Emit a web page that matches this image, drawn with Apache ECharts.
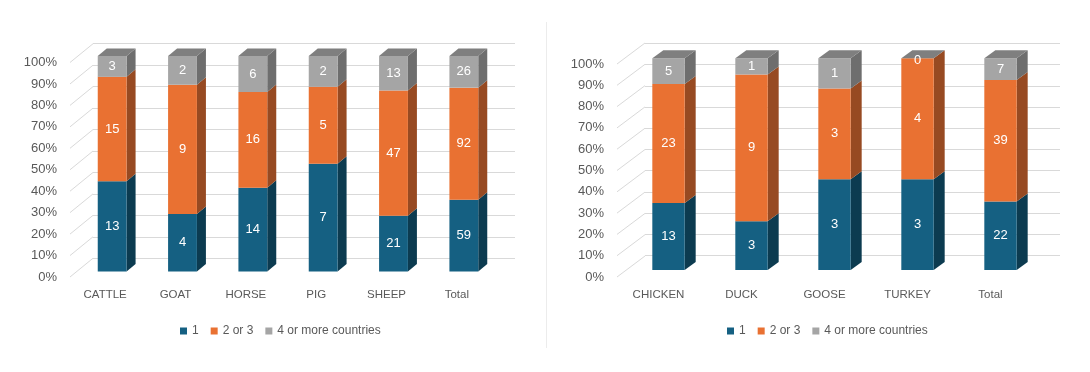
<!DOCTYPE html>
<html><head><meta charset="utf-8">
<script src="https://cdn.jsdelivr.net/npm/echarts@6/dist/echarts.min.js"></script>
<style>html,body{margin:0;padding:0;background:#fff}#c{width:1090px;height:372px}</style>
</head><body><div id="c"></div>
<script>
// ---- data ----
const leftCategories = ['CATTLE', 'GOAT', 'HORSE', 'PIG', 'SHEEP', 'Total'];
const left1 = [13, 4, 14, 7, 21, 59];
const left23 = [15, 9, 16, 5, 47, 92];
const left4 = [3, 2, 6, 2, 13, 26];

const rightCategories = ['CHICKEN', 'DUCK', 'GOOSE', 'TURKEY', 'Total'];
const right1 = [13, 3, 3, 3, 22];
const right23 = [23, 9, 3, 4, 39];
const right4 = [5, 1, 1, 0, 7];

const seriesNames = ['1', '2 or 3', '4 or more countries'];
const yTicks = [0, 10, 20, 30, 40, 50, 60, 70, 80, 90, 100];

// ---- styles ----
const FONT = '"Liberation Sans", Arial, sans-serif';
const TXT = '#595959';
const GRID_C = '#d9d9d9';
const FRONT = ['#156082', '#E97132', '#A5A5A5'];
const SIDE = ['#0C3B50', '#974A22', '#6E6E6E'];
const TOP = ['#0F4A64', '#B3582A', '#7F7F7F'];

const panels = [
  { cats: leftCategories, levels: [left1, left23, left4],
    front: { left: 70, right: 492, top: 62.5, bottom: 277 },
    back: { left: 93, right: 515, top: 43.3, bottom: 258.7 },
    bar: { left: 77, right: 499, top: 56, bottom: 271.5 },
    barRatio: 0.41, bdx: 9, bdy: -7.5, legendLeft: 175 },
  { cats: rightCategories, levels: [right1, right23, right4],
    front: { left: 617, right: 1032, top: 64, bottom: 277 },
    back: { left: 645, right: 1060, top: 43.3, bottom: 255.7 },
    bar: { left: 627, right: 1042, top: 58.3, bottom: 270 },
    barRatio: 0.39, bdx: 11, bdy: -8, legendLeft: 722 }
];

const W = 1090, H = 372;
const grid = [], xAxis = [], yAxis = [], series = [], legend = [];

function rect(r) {
  return { left: r.left, top: r.top, width: r.right - r.left, height: r.bottom - r.top,
           containLabel: false, outerBoundsMode: 'none' };
}

panels.forEach((p, pi) => {
  const g0 = grid.length;
  grid.push(rect(p.front), rect(p.back), rect(p.bar));
  // front plane: labels
  xAxis.push({ gridIndex: g0, type: 'category', data: p.cats,
    axisLine: { show: false }, axisTick: { show: false },
    axisLabel: { color: TXT, fontSize: 11.5, fontFamily: FONT, margin: 12, interval: 0 },
    splitLine: { show: false } });
  yAxis.push({ gridIndex: g0, type: 'value', min: 0, max: 100, interval: 10,
    axisLine: { show: false }, axisTick: { show: false },
    axisLabel: { color: TXT, fontSize: 13, fontFamily: FONT, margin: 13, formatter: '{value}%' },
    splitLine: { show: false } });
  // back wall: grid lines
  xAxis.push({ gridIndex: g0 + 1, type: 'category', data: p.cats, show: false });
  yAxis.push({ gridIndex: g0 + 1, type: 'value', min: 0, max: 100, interval: 10,
    axisLine: { show: false }, axisTick: { show: false }, axisLabel: { show: false },
    splitLine: { show: true, lineStyle: { color: GRID_C, width: 1 } } });
  // bar plane
  xAxis.push({ gridIndex: g0 + 2, type: 'category', data: p.cats, show: false });
  yAxis.push({ gridIndex: g0 + 2, type: 'value', min: 0, max: 100, show: false,
    splitLine: { show: false } });

  // side-wall diagonal lines
  const ddx = p.back.left - p.front.left;
  const ddy = ((p.back.top - p.front.top) + (p.back.bottom - p.front.bottom)) / 2;
  series.push({
    type: 'custom', xAxisIndex: g0, yAxisIndex: g0, silent: true, clip: false,
    data: yTicks.map(v => [0, v]),
    renderItem: function (params, api) {
      const y = api.coord([0, api.value(1)])[1];
      const x = params.coordSys.x;
      return { type: 'line', shape: { x1: x, y1: y, x2: x + ddx, y2: y + ddy },
               style: { stroke: GRID_C, lineWidth: 1 } };
    }
  });

  // bars
  const totals = p.cats.map((c, i) => p.levels.reduce((s, arr) => s + arr[i], 0));
  p.levels.forEach((arr, li) => {
    const data = arr.map((v, i) => {
      let lo = 0;
      for (let k = 0; k < li; k++) lo += p.levels[k][i];
      const loP = lo / totals[i] * 100, hiP = (lo + v) / totals[i] * 100;
      return [i, loP, hiP, v];
    });
    const isTop = li === p.levels.length - 1;
    series.push({
      type: 'custom', name: seriesNames[li], xAxisIndex: g0 + 2, yAxisIndex: g0 + 2,
      clip: false, itemStyle: { color: FRONT[li] }, data: data,
      renderItem: function (params, api) {
        const ci = api.value(0);
        const pLo = api.coord([ci, api.value(1)]);
        const pHi = api.coord([ci, api.value(2)]);
        const w = api.size([1, 0])[0] * p.barRatio;
        const x0 = pLo[0] - w / 2, x1 = pLo[0] + w / 2;
        const yb = pLo[1], yt = pHi[1];
        const dx = p.bdx, dy = p.bdy;
        const ch = [];
        ch.push({ type: 'polygon', shape: { points: [[x1, yb], [x1 + dx, yb + dy], [x1 + dx, yt + dy], [x1, yt]] },
                  style: { fill: SIDE[li] } });
        ch.push({ type: 'rect', shape: { x: x0, y: yt, width: w, height: yb - yt },
                  style: { fill: FRONT[li] } });
        if (isTop) {
          ch.push({ type: 'polygon', shape: { points: [[x0, yt], [x0 + dx, yt + dy], [x1 + dx, yt + dy], [x1, yt]] },
                    style: { fill: TOP[li] } });
        }
        ch.push({ type: 'text', style: { text: String(api.value(3)), x: pLo[0], y: (yb + yt) / 2 + (yb - yt < 4 ? 2 : 0),
                  fill: '#ffffff', fontSize: 13, fontFamily: FONT, align: 'center', verticalAlign: 'middle' } });
        return { type: 'group', children: ch };
      }
    });
  });

  legend.push({ left: p.legendLeft, top: 320, data: seriesNames, icon: 'rect',
    itemWidth: 7, itemHeight: 7, itemGap: 12, selectedMode: false,
    textStyle: { color: TXT, fontSize: 12, fontFamily: FONT } });
});

const chart = echarts.init(document.getElementById('c'), null, { renderer: 'canvas' });
chart.setOption({
  animation: false,
  backgroundColor: '#ffffff',
  textStyle: { fontFamily: FONT },
  grid, xAxis, yAxis, series, legend,
  graphic: [{ type: 'line', shape: { x1: 546.5, y1: 22, x2: 546.5, y2: 348 },
              style: { stroke: '#ececec', lineWidth: 1 }, silent: true }]
});
</script>
</body></html>
